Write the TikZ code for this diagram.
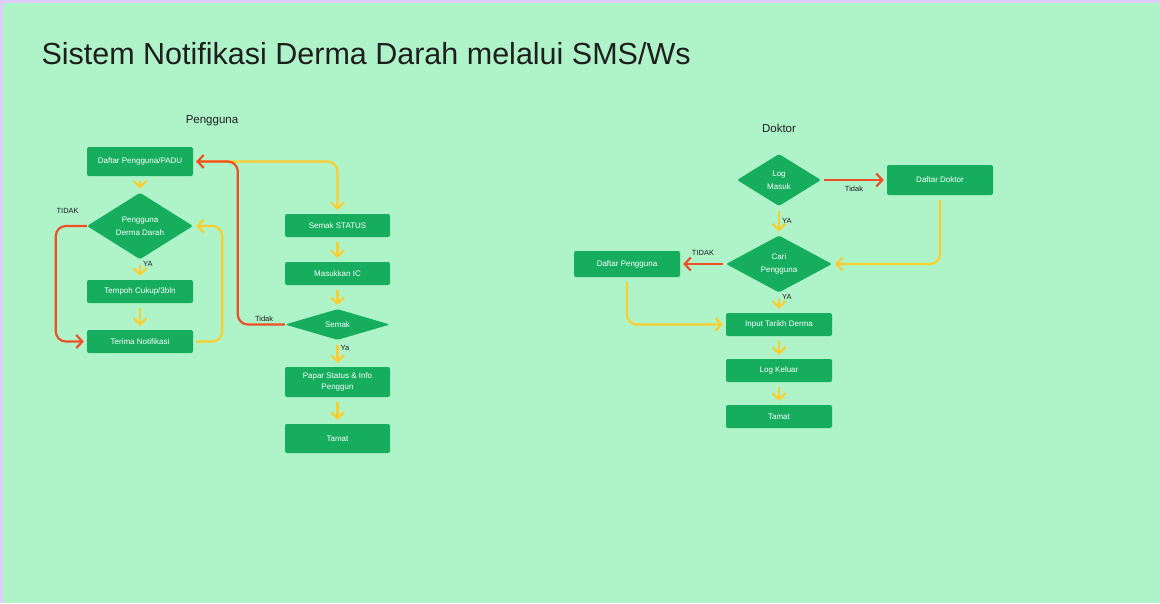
\documentclass[tikz,border=0pt]{standalone}
\usepackage{fontspec}
\setmainfont{Liberation Sans}
\usetikzlibrary{arrows.meta,positioning,shapes.geometric}
\definecolor{bggreen}{RGB}{175,244,200}
\definecolor{boxgreen}{RGB}{22,174,94}
\definecolor{flowyellow}{RGB}{252,205,46}
\definecolor{flowred}{RGB}{238,79,38}
\definecolor{framecol}{RGB}{224,204,250}
\definecolor{ink}{RGB}{30,30,30}

\begin{document}
\begin{tikzpicture}[
  x=1pt,y=-1pt,
  box/.style={fill=boxgreen, rounded corners=2pt, align=center, text=white, minimum width=106pt, minimum height=23pt, font=\fontsize{8}{11}\selectfont, inner sep=2pt},
  dia/.style={diamond, fill=boxgreen, rounded corners=1.5pt, align=center, text=white, minimum width=106pt, minimum height=53pt, font=\fontsize{8}{13}\selectfont, inner sep=0pt},
  lab/.style={font=\fontsize{7.5}{9}\selectfont, text=ink, inner sep=2pt},
  head/.style={font=\fontsize{11.5}{14}\selectfont, text=ink},
  yarr/.style={-{Straight Barb[length=6pt,width=13pt,line width=2.2pt]}, line width=2.2pt, flowyellow, shorten <=5pt, shorten >=4pt},
  rarr/.style={-{Straight Barb[length=6pt,width=13pt,line width=2.2pt]}, line width=2.2pt, flowred, shorten <=3pt, shorten >=3pt},
  roundpath/.style={rounded corners=10pt}
]
\useasboundingbox (0,0) rectangle (1160,603);
\fill[framecol] (0,0) rectangle (1160,603);
\fill[bggreen] (3,3) rectangle (1160,603);

\node[anchor=west, text=ink, font=\fontsize{30.5}{36}\selectfont] (title) at (38,54) {Sistem Notifikasi Derma Darah melalui SMS/Ws};
\node[head] (hpengguna) at (212,121) {Pengguna};
\node[head] (hdoktor) at (779,128) {Doktor};

\node[box, minimum height=29pt] (daftar) at (140,161.5) {Daftar Pengguna/PADU};
\node[dia] (derma) at (140,226) {Pengguna\\Derma Darah};
\node[box] (tempoh) at (140,291.5) {Tempoh Cukup/3bln};
\node[box] (terima) at (140,341.5) {Terima Notifikasi};

\node[box, minimum width=105pt] (status) at (337.5,225.5) {Semak STATUS};
\node[box, minimum width=105pt] (ic) at (337.5,273.5) {Masukkan IC};
\node[dia, minimum width=105pt, minimum height=29pt] (semak) at (337.5,324.5) {Semak};
\node[box, minimum width=105pt, minimum height=30pt] (papar) at (337.5,382) {Papar Status \& Info\\Penggun};
\node[box, minimum width=105pt, minimum height=29pt] (tamatp) at (337.5,438.5) {Tamat};

\node[dia, minimum width=84pt, minimum height=52pt] (login) at (779,180) {Log\\Masuk};
\node[box, minimum height=30pt] (ddoktor) at (940,180) {Daftar Doktor};
\node[dia, minimum height=52pt] (cari) at (779,264) {Cari\\Pengguna};
\node[box, minimum height=26pt] (dpengguna) at (627,264) {Daftar Pengguna};
\node[box] (input) at (779,324.5) {Input Tarikh Derma};
\node[box] (keluar) at (779,370.5) {Log Keluar};
\node[box] (tamatd) at (779,416.5) {Tamat};

\draw[yarr] (daftar) -- (derma);
\draw[yarr] (derma) -- node[lab, right, pos=0.2] {YA} (tempoh);
\draw[yarr] (tempoh) -- (terima);
\draw[rarr, roundpath, shorten <=0pt] (derma.west) node[lab, above left=9pt and 5pt] {TIDAK} -- ++(-31,0) |- (terima.west);
\draw[yarr, roundpath, shorten <=3pt, shorten >=3pt] (terima.east) -- ++(29,0) |- (derma.east);

\draw[yarr, roundpath, shorten <=3pt] (daftar.east) -| (status.north);
\draw[yarr] (status) -- (ic);
\draw[yarr] (ic) -- (semak);
\draw[yarr] (semak) -- node[lab, right, pos=0.3] {Ya} (papar);
\draw[yarr] (papar) -- (tamatp);
\draw[rarr, roundpath, shorten <=0pt] (semak.west) -| node[lab, above, pos=0.22] {Tidak} ++(-47,-163) -- (daftar.east);

\draw[rarr] (login) -- node[lab, below=3pt] {Tidak} (ddoktor);
\draw[yarr] (login) -- node[lab, right] {YA} (cari);
\draw[yarr, roundpath, shorten >=3pt] (ddoktor.south) |- (cari.east);
\draw[rarr] (cari) -- node[lab, above=5pt] {TIDAK} (dpengguna);
\draw[yarr] (cari) -- node[lab, right, pos=0.2] {YA} (input);
\draw[yarr, roundpath, shorten >=3pt] (dpengguna.south) |- (input.west);
\draw[yarr] (input) -- (keluar);
\draw[yarr] (keluar) -- (tamatd);
\end{tikzpicture}
\end{document}
